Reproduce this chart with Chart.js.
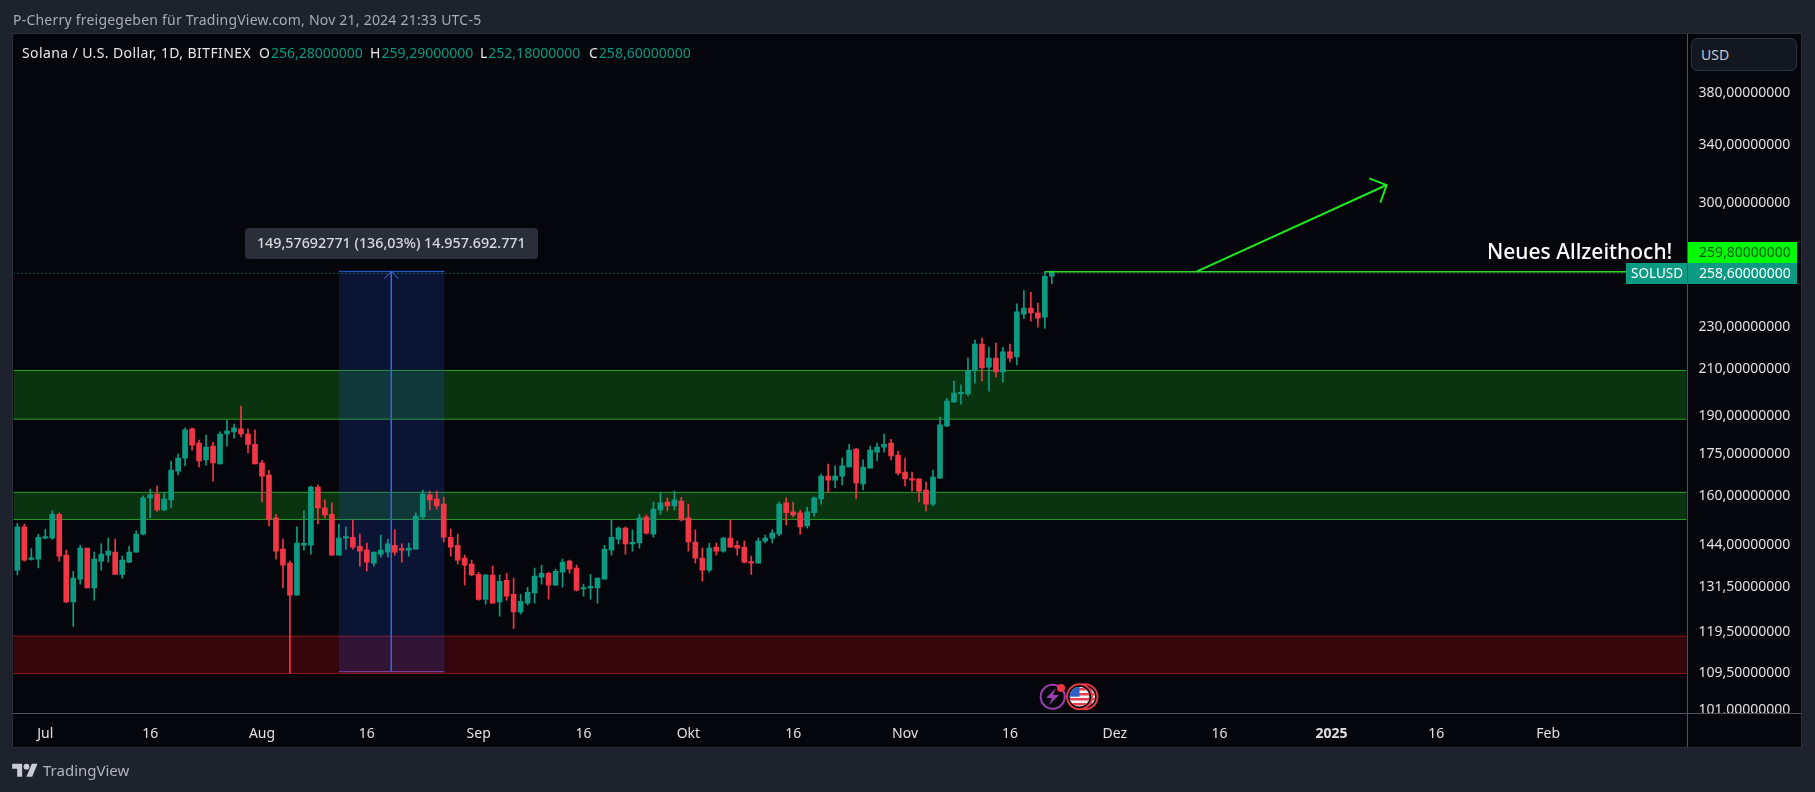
<!DOCTYPE html>
<html>
<head>
<meta charset="utf-8">
<title>SOLUSD 1D</title>
<script src="https://cdn.jsdelivr.net/npm/chart.js@4"></script>
<style>
  html, body { margin: 0; padding: 0; background: #1e222d; overflow: hidden; }
  body { width: 1815px; height: 792px; position: relative; font-family: "Noto Sans", sans-serif; }
  canvas { position: absolute; left: 0; top: 0; }
  .txt { position: absolute; white-space: pre; font-size: 14px; line-height: 18px; }
  #snapshot { left: 13px; top: 11px; color: #a8acb7; letter-spacing: 0.22px; }
  .lg { top: 44px; color: #e6e7ea; }
  .lg span { color: #089981; margin-left: 1px; }
  #title { left: 22px; letter-spacing: 0.4px; }
  #usd { left: 1691px; top: 38px; width: 95px; height: 31px; padding-left: 9px; line-height: 31px; color: #c4c7cf; background: #131722; border: 1px solid #2e323e; border-radius: 6px; }
  #brand { left: 43px; top: 760px; font-size: 15px; line-height: 20px; color: #b2b5be; }
  #logo { position: absolute; left: 12px; top: 761px; width: 26px; height: 20px; fill: #c9ccd4; }
</style>
</head>
<body>
<canvas id="myChart" width="1815" height="792"></canvas>
<div class="txt" id="snapshot">P-Cherry freigegeben für TradingView.com, Nov 21, 2024 21:33 UTC-5</div>
<div class="txt lg" id="title">Solana / U.S. Dollar, 1D, BITFINEX</div>
<div class="txt lg" style="left:259px">O<span>256,28000000</span></div>
<div class="txt lg" style="left:370px">H<span>259,29000000</span></div>
<div class="txt lg" style="left:480px">L<span>252,18000000</span></div>
<div class="txt lg" style="left:589px">C<span>258,60000000</span></div>
<div class="txt" id="usd">USD</div>
<svg id="logo" viewBox="0 0 36 28"><path d="M14 22H7V11H0V4h14v18zM28 22h-8l7.5-18h8L28 22z"/><circle cx="20" cy="8" r="4"/></svg>
<div class="txt" id="brand">TradingView</div>
<script>
// daily candles
const opens = [136.4,149.7,139.6,139.7,146.1,146.1,153.8,140.9,127.4,133.8,143.0,131.3,139.1,140.9,141.8,135.2,138.8,141.8,147.4,159.3,
  160.6,155.2,158.6,168.7,173.5,184.7,179.2,172.8,178.0,171.3,182.7,183.5,184.7,182.7,178.7,171.7,167.3,152.6,142.7,138.5,
  129.3,143.9,143.9,163.0,155.9,153.8,140.9,146.1,146.4,143.6,142.4,138.5,141.2,141.8,143.9,142.7,142.4,142.7,152.9,160.3,
  158.9,157.2,146.4,143.9,140.0,138.2,135.2,128.1,135.0,127.4,133.5,129.5,124.7,127.1,129.9,134.4,135.5,132.1,135.8,139.1,
  137.0,131.0,131.3,131.3,133.8,142.4,145.8,149.3,144.3,144.6,152.9,147.4,155.2,157.9,156.6,158.2,152.6,144.9,140.0,136.4,
  143.3,142.1,146.1,143.9,143.3,138.8,138.5,145.2,146.1,147.4,157.6,154.6,154.3,150.0,154.3,158.9,166.9,165.5,166.9,170.2,
  176.9,164.1,169.8,175.7,177.6,179.2,174.6,168.4,165.9,165.9,162.0,157.2,166.2,185.9,195.7,199.1,199.1,209.6,221.6,210.9,
  215.0,208.7,217.9,215.5,236.3,239.4,236.9,234.8,256.28];
const highs = [150.8,150.5,142.9,147.3,148.9,154.9,154.3,142.4,136.1,143.9,143.0,141.8,144.3,146.1,145.8,140.6,143.6,148.4,160.0,162.3,
  163.4,161.0,172.4,175.0,185.1,185.0,180.3,182.3,179.5,183.5,188.2,186.6,194.0,184.7,184.3,172.7,169.0,153.8,145.8,139.1,
  149.7,154.9,163.4,163.8,158.6,157.6,150.6,149.7,151.9,147.4,144.6,141.8,147.1,145.8,148.7,144.3,144.6,154.3,162.0,161.6,
  161.6,159.6,149.0,147.4,140.9,139.4,135.8,135.2,137.6,135.0,135.5,134.1,129.5,131.5,137.0,137.9,135.8,136.7,139.7,139.4,
  137.9,132.4,135.2,134.1,143.9,151.9,149.7,149.7,148.7,153.8,153.6,157.9,161.0,159.3,161.6,159.5,157.2,148.7,143.0,144.6,
  144.6,146.4,151.9,145.2,145.2,140.6,146.1,147.1,148.7,157.9,159.3,157.9,155.2,156.2,159.6,167.6,171.3,170.6,173.5,178.7,
  177.2,172.8,178.0,179.2,182.7,180.6,176.1,173.5,168.4,165.9,164.8,169.1,189.4,197.2,204.7,203.0,215.0,223.5,224.4,220.2,
  222.1,220.0,221.6,241.5,248.5,247.6,242.0,258.8,259.29];
const lows = [135.0,139.1,139.4,137.1,145.9,145.7,139.1,127.2,120.9,132.4,131.3,127.9,136.4,138.8,135.2,134.1,138.6,141.8,147.1,152.6,
  154.7,155.0,155.9,167.3,170.6,176.5,170.2,170.9,165.1,171.3,178.0,181.1,181.6,175.4,171.3,157.9,150.0,139.7,131.3,109.3,
  129.3,142.4,141.2,150.6,152.6,140.9,140.9,142.7,142.7,137.6,136.1,137.6,140.3,140.3,140.9,138.8,140.6,142.7,152.2,155.2,
  155.5,144.9,140.6,138.2,132.1,134.7,127.9,126.8,127.1,123.6,127.9,120.4,124.1,126.6,127.1,132.4,128.2,132.1,131.5,135.5,
  130.4,129.0,128.2,127.1,133.8,140.9,144.3,141.2,142.1,143.0,147.4,146.4,153.8,154.9,155.2,151.6,142.1,138.5,133.2,135.8,
  140.9,141.8,143.3,140.9,138.5,135.2,138.5,144.6,144.6,146.8,150.3,152.9,147.4,149.3,153.2,157.2,161.3,162.7,163.8,170.2,
  158.9,162.0,169.8,172.4,175.7,172.8,167.3,163.4,161.6,157.9,154.9,156.6,166.2,185.6,195.4,194.8,198.2,203.8,204.7,200.3,
  206.5,204.2,213.2,211.9,234.0,232.8,229.8,229.3,252.18];
const closes = [149.7,139.4,140.0,146.4,146.4,153.8,140.6,127.4,134.1,143.0,131.3,139.7,141.2,142.1,135.2,139.4,141.8,147.4,159.3,160.3,
  155.2,158.9,169.1,173.5,184.3,178.4,172.4,177.6,171.7,182.7,183.9,185.1,182.7,178.7,171.3,166.9,152.2,142.1,137.9,129.3,
  144.6,144.5,163.0,155.9,153.6,140.9,146.1,146.4,143.3,142.1,138.8,141.8,142.4,144.3,141.8,142.4,143.0,153.2,160.6,158.6,
  156.6,146.4,143.3,139.4,137.9,135.0,128.1,135.0,127.1,133.2,129.0,124.7,127.6,130.1,134.7,135.5,132.1,136.1,138.8,136.7,
  130.7,131.3,131.5,134.1,142.7,146.4,149.3,144.3,144.6,152.6,147.7,155.5,157.6,156.6,158.6,151.9,144.9,140.0,136.4,143.0,
  142.1,146.1,143.3,143.0,138.8,138.5,145.2,146.1,147.7,157.2,154.3,153.6,149.7,154.6,159.3,166.9,165.5,166.9,170.6,176.5,
  164.5,170.2,176.5,177.6,178.7,174.3,168.0,165.9,165.5,161.6,157.2,166.6,186.3,196.1,199.5,199.5,209.4,221.6,210.5,215.0,
  208.7,217.9,215.0,237.4,239.4,236.9,234.3,256.3,258.60];

const priceTicks = [380, 340, 300, 230, 210, 190, 175, 160, 144, 131.5, 119.5, 109.5, 101];
const timeTickDays = [4, 19, 35, 50, 66, 81, 96, 111, 127, 142, 157, 172, 188, 203, 219];
const timeTickLabels = ['Jul', '16', 'Aug', '16', 'Sep', '16', 'Okt', '16', 'Nov', '16', 'Dez', '16', '2025', '16', 'Feb'];

// zones [top, bottom]
const greenZones = [[209.4, 188.6], [161.2, 152.1]];
const redZone = [118.4, 109.3];
// price range tool
const rangeDays = [46, 61.1];
const rangePrices = [259.0, 109.7];
const rangeLabel = '149,57692771 (136,03%) 14.957.692.771';
const rangeMid = 53.5;

const lastPrice = 258.6;
const athPrice = 259.8;
// where the two horizontal lines actually sit on the picture
const lastLine = 257.9;
const athLine = 258.8;
const athStart = 147;
const arrowLine = [[168.7, 258.8], [195.9, 311.7]];
const arrowHead = [[193.4, 316.2], [195.9, 311.7], [195.0, 300.1]];
const rangeHead = [[52.5, 255.0], [53.5, 259.0], [54.5, 255.0]];

const xMin = -0.55;
const xMax = 238.8;
const FONT = '"Noto Sans", sans-serif';
const UP = '#0c9a82';
const DOWN = '#f23645';

const candleColors = opens.map((o, i) => closes[i] >= o ? UP : DOWN);
const points = (arr) => arr.map(p => ({ x: p[0], y: p[1] }));
const fmtPrice = (v) => v.toFixed(8).replace('.', ',');

function lineSet(data, color, width, dash) {
  return {
    type: 'line', data: data, borderColor: color, borderWidth: width, borderDash: dash || [],
    pointRadius: 0, tension: 0, fill: false, parsing: { xAxisKey: 'x', yAxisKey: 'y' }
  };
}

function rect(ctx, x, y, w, h, fill) {
  ctx.fillStyle = fill;
  ctx.fillRect(x, y, w, h);
}

function tag(ctx, x, y, w, h, fill, text, color, font, tx) {
  rect(ctx, x, y, w, h, fill);
  ctx.fillStyle = color;
  ctx.font = font;
  ctx.textAlign = 'left';
  ctx.textBaseline = 'middle';
  ctx.fillText(text, tx, y + h / 2 + 0.5);
}

// everything that isn't a candle or a line
const extras = {
  id: 'extras',
  beforeDraw(chart) {
    const ctx = chart.ctx;
    rect(ctx, 13, 34, 1789, 713, '#05060b');
  },
  beforeDatasetsDraw(chart) {
    const ctx = chart.ctx;
    const x = chart.scales.x, y = chart.scales.y;
    const area = chart.chartArea;
    const zone = (top, bottom, fill, line) => {
      const y1 = y.getPixelForValue(top), y2 = y.getPixelForValue(bottom);
      rect(ctx, area.left, y1, area.width, y2 - y1, fill);
      rect(ctx, area.left, y1 - 0.5, area.width, 1, line);
      rect(ctx, area.left, y2 - 0.5, area.width, 1, line);
    };
    greenZones.forEach(z => zone(z[0], z[1], '#0a3310', '#2f9e2c'));
    zone(redZone[0], redZone[1], '#35060b', '#8e1a1e');

    const bx1 = x.getPixelForValue(rangeDays[0]), bx2 = x.getPixelForValue(rangeDays[1]);
    const by1 = y.getPixelForValue(rangePrices[0]), by2 = y.getPixelForValue(rangePrices[1]);
    rect(ctx, bx1, by1, bx2 - bx1, by2 - by1, 'rgba(38,82,220,0.2)');
    rect(ctx, bx1, by1 - 0.5, bx2 - bx1, 1, '#2f5fe0');
    rect(ctx, bx1, by2 - 0.5, bx2 - bx1, 1, '#8a4bb8');
  },
  afterDraw(chart) {
    const ctx = chart.ctx;
    const x = chart.scales.x;
    // covers the bottom of the price axis, 101 gets cut like in TV
    rect(ctx, 1688, 714, 113, 33, '#05060b');
    rect(ctx, 13, 713, 1789, 1, '#50535e');
    rect(ctx, 1687, 34, 1, 713, '#50535e');
    ctx.strokeStyle = '#2a2e39';
    ctx.lineWidth = 1;
    ctx.strokeRect(12.5, 33.5, 1789, 714);

    // measure label
    const cx = x.getPixelForValue(rangeMid);
    ctx.beginPath();
    ctx.roundRect(245, 228, 293, 31, 4);
    ctx.fillStyle = '#2a2e39';
    ctx.fill();
    ctx.fillStyle = '#d8dae0';
    ctx.font = '500 14.3px ' + FONT;
    ctx.textAlign = 'center';
    ctx.textBaseline = 'middle';
    ctx.fillText(rangeLabel, cx, 243.5);

    ctx.fillStyle = '#ffffff';
    ctx.font = '500 21px ' + FONT;
    ctx.textAlign = 'left';
    ctx.textBaseline = 'alphabetic';
    ctx.fillText('Neues Allzeithoch!', 1487, 259);

    tag(ctx, 1688, 242, 109, 21, '#00f900', fmtPrice(athPrice), '#0a5c12', '14px ' + FONT, 1699);
    tag(ctx, 1688, 263, 109, 21, UP, fmtPrice(lastPrice), '#ffffff', '14px ' + FONT, 1699);
    tag(ctx, 1626, 263, 61, 21, UP, 'SOLUSD', '#ffffff', '13.5px ' + FONT, 1631);
    rect(ctx, 1687, 263, 1, 21, '#50535e');

    // event icons
    ctx.lineWidth = 2;
    ctx.strokeStyle = '#9b3fb2';
    ctx.beginPath();
    ctx.arc(1052.7, 696.7, 12, 0, Math.PI * 2);
    ctx.stroke();
    ctx.fillStyle = '#9b3fb2';
    ctx.beginPath();
    ctx.moveTo(1056, 688); ctx.lineTo(1046, 698); ctx.lineTo(1052, 698);
    ctx.lineTo(1049, 705); ctx.lineTo(1059, 695); ctx.lineTo(1053, 695);
    ctx.closePath();
    ctx.fill();
    ctx.fillStyle = '#f23645';
    ctx.beginPath();
    ctx.arc(1061, 688, 4, 0, Math.PI * 2);
    ctx.fill();
    [1085, 1079.5].forEach(c => {
      ctx.save();
      ctx.beginPath();
      ctx.arc(c, 696.7, 12.5, 0, Math.PI * 2);
      ctx.fillStyle = '#05060b';
      ctx.fill();
      ctx.strokeStyle = '#e03a45';
      ctx.lineWidth = 2;
      ctx.stroke();
      ctx.beginPath();
      ctx.arc(c, 696.7, 10, 0, Math.PI * 2);
      ctx.clip();
      rect(ctx, c - 10, 686.7, 20, 20, '#f2f2f2');
      for (let s = 0; s < 4; s++) rect(ctx, c - 10, 688 + s * 5, 20, 2.5, '#e0424e');
      rect(ctx, c - 10, 686.7, 10, 10, '#2f5fc4');
      ctx.restore();
    });
  }
};

const ctx = document.getElementById('myChart').getContext('2d');

const myChart = new Chart(ctx, {
  type: 'bar',
  data: {
    datasets: [
      lineSet(points(arrowLine), '#1ee81e', 2),
      lineSet(points(arrowHead), '#1ee81e', 2),
      lineSet(points([[athStart, athLine], [xMax, athLine]]), '#37d42f', 1.5),
      lineSet(points(rangeHead), '#3f6fe8', 1),
      lineSet(points([[rangeMid, rangePrices[0]], [rangeMid, rangePrices[1]]]), '#3566e6', 1),
      {
        label: 'body',
        data: opens.map((o, i) => ({ x: i, y: [o, closes[i]] })),
        backgroundColor: candleColors,
        barThickness: 5,
        minBarLength: 1.5,
        grouped: false
      },
      {
        label: 'wick',
        data: lows.map((l, i) => ({ x: i, y: [l, highs[i]] })),
        backgroundColor: candleColors,
        barThickness: 1,
        grouped: false
      },
      lineSet(points([[xMin, lastLine], [xMax, lastLine]]), '#1f9e88', 1, [1, 3])
    ]
  },
  options: {
    responsive: false,
    animation: false,
    events: [],
    layout: { padding: { left: 13.5, top: 34, right: 14, bottom: 45 } },
    plugins: { legend: { display: false }, tooltip: { enabled: false } },
    scales: {
      x: {
        type: 'linear',
        offset: false,
        min: xMin,
        max: xMax,
        grid: { display: false },
        border: { display: false },
        afterBuildTicks: (axis) => { axis.ticks = timeTickDays.map(d => ({ value: d })); },
        afterFit: (axis) => { axis.height = 34; },
        ticks: {
          autoSkip: false,
          maxRotation: 0,
          padding: 5,
          color: '#dfe1e6',
          font: (c) => ({ family: FONT, size: 14, weight: c.tick && c.tick.value === 188 ? 'bold' : 'normal' }),
          callback: (v) => timeTickLabels[timeTickDays.indexOf(v)]
        }
      },
      y: {
        type: 'logarithmic',
        position: 'right',
        min: 100.4,
        max: 431,
        grid: { display: false },
        border: { display: false },
        afterBuildTicks: (axis) => { axis.ticks = priceTicks.map(v => ({ value: v })); },
        afterFit: (axis) => { axis.width = 114.5; },
        ticks: {
          autoSkip: false,
          padding: 4,
          color: '#dfe1e6',
          font: { family: FONT, size: 14 },
          callback: (v) => fmtPrice(v)
        }
      }
    }
  },
  plugins: [extras]
});
</script>
</body>
</html>
